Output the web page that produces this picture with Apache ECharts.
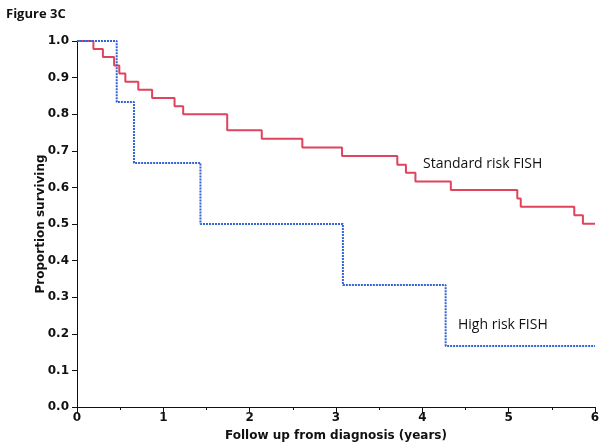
<!DOCTYPE html>
<html>
<head>
<meta charset="utf-8">
<script src="https://cdn.jsdelivr.net/npm/echarts@6/dist/echarts.min.js"></script>
<style>html,body{margin:0;padding:0;background:#fff}#c{width:602px;height:448px}</style>
</head>
<body>
<div id="c"></div>
<script>
const standardTimes = [0, 0.19, 0.30, 0.43, 0.49, 0.56, 0.71, 0.87, 1.13, 1.23, 1.74, 2.14, 2.61, 3.07, 3.71, 3.81, 3.92, 4.33, 5.10, 5.14, 5.76, 5.86, 6.0];
const standardSurv  = [1.0, 0.978, 0.956, 0.933, 0.911, 0.889, 0.867, 0.844, 0.822, 0.800, 0.756, 0.733, 0.709, 0.686, 0.662, 0.640, 0.616, 0.593, 0.570, 0.547, 0.524, 0.501, 0.501];
const highTimes = [0, 0.46, 0.66, 1.43, 3.08, 4.27, 6.0];
const highSurv  = [1.0, 0.833, 0.667, 0.500, 0.333, 0.167, 0.167];
const xTicks = [0, 1, 2, 3, 4, 5, 6];
const yTicks = [0.0, 0.1, 0.2, 0.3, 0.4, 0.5, 0.6, 0.7, 0.8, 0.9, 1.0];
const seriesNames = ['Standard risk FISH', 'High risk FISH'];

const zip = (a, b) => a.map((v, i) => [v, b[i]]);
const chart = echarts.init(document.getElementById('c'));
const tickFont = { fontFamily: 'DejaVu Sans', fontWeight: 'bold', fontSize: 12, color: '#111' };
chart.setOption({
  animation: false,
  title: { text: 'Figure 3C', left: 1, top: 3, textStyle: { fontFamily: 'Open Sans', fontWeight: 'bold', fontSize: 13, color: '#111' } },
  grid: { left: 77, right: 7, top: 41, bottom: 41, containLabel: false, outerBoundsMode: 'none' },
  xAxis: {
    type: 'value', min: 0, max: 6, interval: 1,
    name: 'Follow up from diagnosis (years)', nameLocation: 'middle', nameGap: 23, nameMoveOverlap: false,
    nameTextStyle: tickFont,
    axisLine: { lineStyle: { color: '#111', width: 1 } },
    axisTick: { length: 6, lineStyle: { color: '#111' } },
    minorTick: { show: true, splitNumber: 2, length: 3, lineStyle: { color: '#111' } },
    axisLabel: { ...tickFont, margin: 5, formatter: v => xTicks.includes(v) ? String(v) : '' },
    splitLine: { show: false }
  },
  yAxis: {
    type: 'value', min: 0, max: 1, interval: 0.1,
    name: 'Proportion surviving', nameLocation: 'middle', nameGap: 30, nameMoveOverlap: false,
    nameTextStyle: tickFont,
    axisLine: { show: true, lineStyle: { color: '#111', width: 1 } },
    axisTick: { show: true, length: 5, lineStyle: { color: '#111' } },
    axisLabel: { ...tickFont, margin: 8, formatter: v => yTicks.some(t => Math.abs(t - v) < 1e-9) ? v.toFixed(1) : '' },
    splitLine: { show: false }
  },
  series: [
    { name: seriesNames[0], type: 'line', step: 'end', showSymbol: false, data: zip(standardTimes, standardSurv),
      lineStyle: { color: '#e0435c', width: 2 }, z: 2 },
    { name: seriesNames[1], type: 'line', step: 'end', showSymbol: false, data: zip(highTimes, highSurv),
      lineStyle: { color: '#3564d8', width: 2, type: [2, 1] }, z: 3 }
  ],
  graphic: [
    { type: 'text', left: 423, top: 157, style: { text: seriesNames[0], font: '14px "Open Sans"', fill: '#111' } },
    { type: 'text', left: 458, top: 318, style: { text: seriesNames[1], font: '14px "Open Sans"', fill: '#111' } }
  ]
});
</script>
</body>
</html>
